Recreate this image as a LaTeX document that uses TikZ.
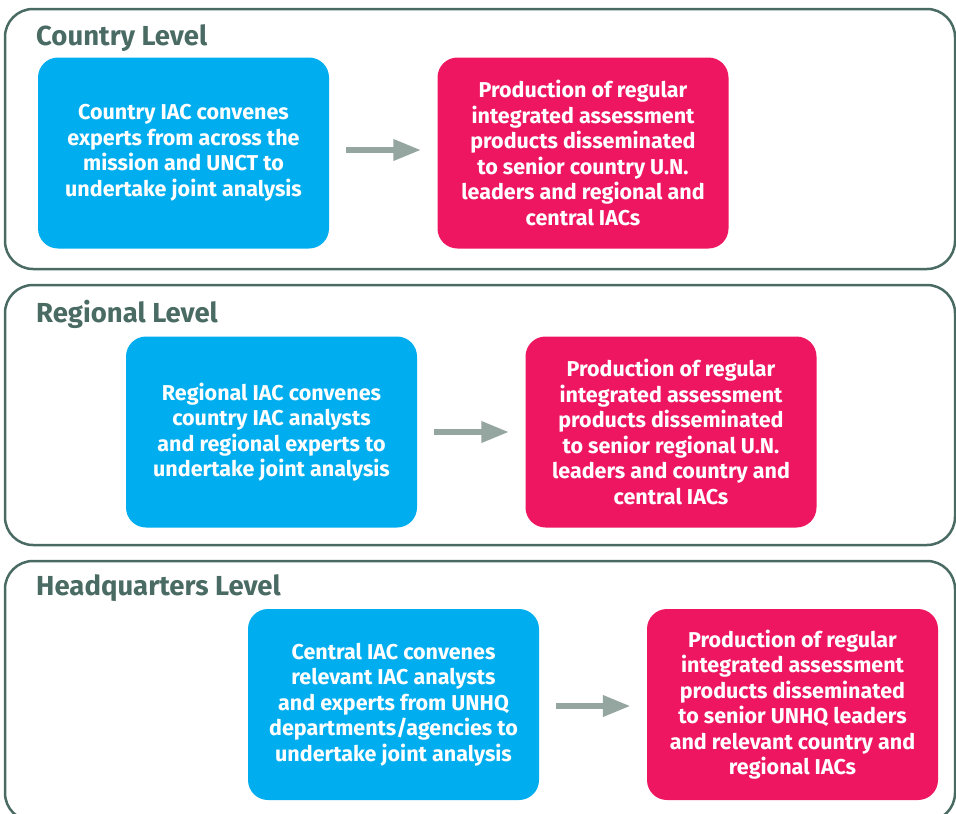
\documentclass[tikz,border=0pt]{standalone}
\usepackage{fontspec}
\setmainfont{Fira Sans}
\usetikzlibrary{arrows.meta}
\definecolor{panelc}{HTML}{4A6B63}
\definecolor{bluec}{HTML}{00AEEF}
\definecolor{pinkc}{HTML}{EE1660}
\definecolor{arrowc}{HTML}{95A59F}
\tikzset{
  panel/.style={draw=panelc, line width=2.5pt, rounded corners=28pt},
  title/.style={anchor=west, text=panelc, font=\fontsize{27.5}{32}\selectfont\bfseries, inner sep=0pt},
  boxb/.style={fill=bluec, rounded corners=20pt, minimum width=291pt, minimum height=191pt,
     text=white, align=center, inner sep=0pt, font=\fontsize{21.5}{25.5}\selectfont\bfseries},
  boxp/.style={boxb, fill=pinkc},
  flow/.style={draw=arrowc, line width=6.5pt, -{Triangle[length=28pt,width=20pt]}, shorten <=17pt, shorten >=16pt}
}
\begin{document}
\begin{tikzpicture}[x=1pt,y=-1pt]
\useasboundingbox (0,0) rectangle (956,814);
\begin{scope}
\clip (0,0) rectangle (956,814);
\draw[panel] (5,9) rectangle (955,269);
\draw[panel] (5,285) rectangle (955,545);
\draw[panel] (5,561) rectangle (955,821);
\end{scope}
\node[title] (t1) at (36,38) {Country Level};
\node[title] (t2) at (36,314) {Regional Level};
\node[title] (t3) at (36,588) {Headquarters Level};

\node[boxb] (b1) at (183.5,153) {Country IAC convenes\\experts from across the\\mission and UNCT to\\undertake joint analysis};
\node[boxp] (p1) at (583,153) {Production of regular\\integrated assessment\\products disseminated\\to senior country U.N.\\leaders and regional and\\central IACs};
\node[boxb] (b2) at (271.5,432) {Regional IAC convenes\\country IAC analysts\\and regional experts to\\undertake joint analysis};
\node[boxp] (p2) at (671,432) {Production of regular\\integrated assessment\\products disseminated\\to senior regional U.N.\\leaders and country and\\central IACs};
\node[boxb] (b3) at (393.5,704.5) {Central IAC convenes\\relevant IAC analysts\\and experts from UNHQ\\departments/agencies to\\undertake joint analysis};
\node[boxp] (p3) at (792.5,704.5) {Production of regular\\integrated assessment\\products disseminated\\to senior UNHQ leaders\\and relevant country and\\regional IACs};

\draw[flow] ([yshift=3pt]b1.east) -- ([yshift=3pt]p1.west);
\draw[flow] (b2.east) -- (p2.west);
\draw[flow] ([yshift=-1.5pt]b3.east) -- ([yshift=-1.5pt]p3.west);
\end{tikzpicture}
\end{document}
